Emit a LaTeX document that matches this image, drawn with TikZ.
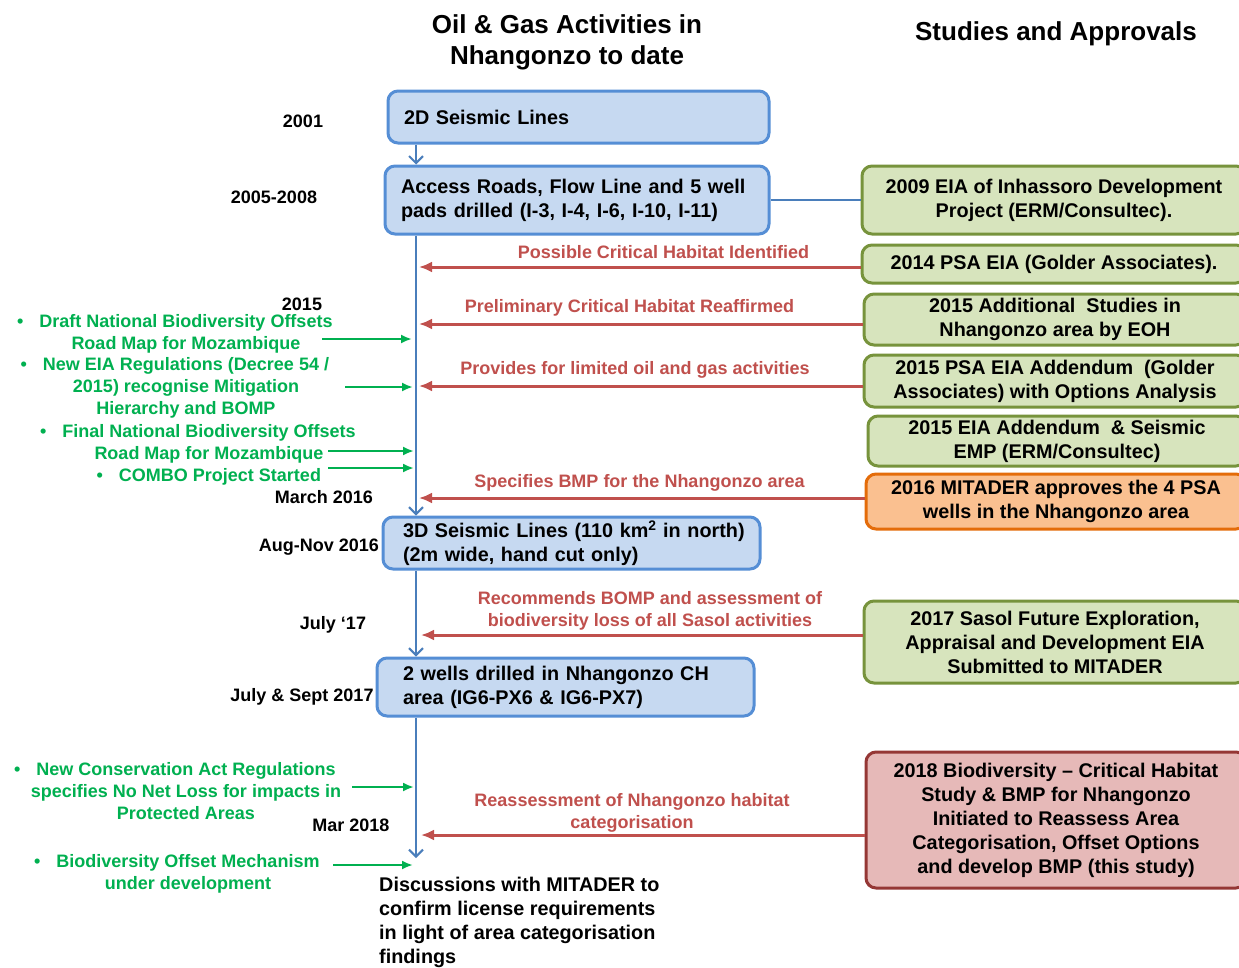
\documentclass[tikz,border=0pt]{standalone}
\usepackage{fontspec}
\setmainfont{Liberation Sans}
\usetikzlibrary{arrows.meta}
\definecolor{bfill}{RGB}{198,217,241}
\definecolor{bdraw}{RGB}{85,142,213}
\definecolor{bline}{RGB}{74,126,187}
\definecolor{gfill}{RGB}{215,228,189}
\definecolor{gdraw}{RGB}{119,147,60}
\definecolor{ofill}{RGB}{250,192,144}
\definecolor{odraw}{RGB}{228,108,10}
\definecolor{rfill}{RGB}{230,185,184}
\definecolor{rdraw}{RGB}{149,55,53}
\definecolor{rtext}{RGB}{192,80,77}
\definecolor{gtext}{RGB}{0,176,80}
\begin{document}
\begin{tikzpicture}[x=1pt,y=-1pt,
  boxtxt/.style={font=\bfseries\fontsize{19.8}{24}\selectfont},
  bluebox/.style={boxtxt, draw=bdraw, fill=bfill, line width=3pt, rounded corners=10pt, align=left, inner ysep=0pt},
  rbox/.style={boxtxt, line width=3pt, rounded corners=10pt, align=center, inner sep=0pt},
  gbox/.style={rbox, draw=gdraw, fill=gfill},
  obox/.style={rbox, draw=odraw, fill=ofill},
  redbox/.style={rbox, draw=rdraw, fill=rfill},
  yearlbl/.style={font=\bfseries\fontsize{18}{22}\selectfont, inner sep=0pt},
  redlbl/.style={font=\bfseries\fontsize{18}{22}\selectfont, text=rtext, align=center, inner sep=0pt},
  grnlbl/.style={font=\bfseries\fontsize{18}{22}\selectfont, text=gtext, align=center, inner sep=0pt},
  titlelbl/.style={font=\bfseries\fontsize{26}{31}\selectfont, align=center, inner sep=0pt},
  bluearr/.style={draw=bline, line width=2pt, -{Straight Barb[length=7pt,width=14pt,line width=2pt]}},
  redarr/.style={draw=rtext, line width=3pt, -{Latex[length=13pt,width=11pt]}},
  grnarr/.style={draw=gtext, line width=2.5pt, -{Latex[length=11pt,width=9pt]}}
]
\clip (0,0) rectangle (1239,967);
\fill[white] (0,0) rectangle (1239,967);

% titles
\node[titlelbl] (t1) at (567,42) {Oil \& Gas Activities in\\Nhangonzo to date};
\node[titlelbl] (t2) at (1056,34) {Studies and Approvals};

% blue boxes
\node[bluebox, text width=349pt, inner xsep=16pt, minimum height=52pt] (b1) at (578.5,117) {\mbox{2D Seismic Lines}};
\node[bluebox, text width=352pt, inner xsep=16pt, minimum height=68pt] (b2) at (577,200) {\mbox{Access Roads, Flow Line and 5 well}\\\mbox{pads drilled (I-3, I-4, I-6, I-10, I-11)}};
\node[bluebox, text width=337pt, inner xsep=20pt, minimum height=52pt] (b3) at (571.5,543) {\mbox{3D Seismic Lines (110 km\textsuperscript{2} in north)}\\\mbox{(2m wide, hand cut only)}};
\node[bluebox, text width=325pt, inner xsep=26pt, minimum height=58pt] (b4) at (565.5,687) {\mbox{2 wells drilled in Nhangonzo CH}\\\mbox{area (IG6-PX6 \& IG6-PX7)}};

% right boxes
\node[gbox, minimum width=384pt, minimum height=68pt] (e2009) at (1054,200) {2009 EIA of Inhassoro Development\\Project (ERM/Consultec).};
\node[gbox, minimum width=384pt, minimum height=38pt] (p2014) at (1054,264) {2014 PSA EIA (Golder Associates).};
\node[gbox, minimum width=382pt, minimum height=51pt] (a2015) at (1055,319.5) {2015 Additional\ \ Studies in\\Nhangonzo area by EOH};
\node[gbox, minimum width=382pt, minimum height=52pt] (pa2015) at (1055,381) {2015 PSA EIA Addendum\ \ (Golder\\Associates) with Options Analysis};
\node[gbox, minimum width=378pt, minimum height=50pt] (ea2015) at (1057,441) {2015 EIA Addendum\ \ \& Seismic\\EMP (ERM/Consultec)};
\node[obox, minimum width=380pt, minimum height=55pt] (m2016) at (1056,501.5) {2016 MITADER approves the 4 PSA\\wells in the Nhangonzo area};
\node[gbox, minimum width=382pt, minimum height=82pt] (s2017) at (1055,642) {2017 Sasol Future Exploration,\\Appraisal and Development EIA\\Submitted to MITADER};
\node[redbox, minimum width=380pt, minimum height=136pt] (b2018) at (1056,820) {2018 Biodiversity -- Critical Habitat\\Study \& BMP for Nhangonzo\\Initiated to Reassess Area\\Categorisation, Offset Options\\and develop BMP (this study)};

% year labels
\node[yearlbl] (y2001) at (303,121) {2001};
\node[yearlbl] (y0508) at (274,197) {2005-2008};
\node[yearlbl] (y2015) at (302,304) {2015};
\node[yearlbl] (ym16) at (324,497) {March 2016};
\node[yearlbl] (yan16) at (319,547) {Aug-Nov 2016};
\node[yearlbl] (yj17) at (333,625) {July ‘17};
\node[yearlbl] (yjs17) at (302,697) {July \& Sept 2017};
\node[yearlbl] (ym18) at (351,825) {Mar 2018};

% blue timeline
\coordinate (L) at (416,0);
\coordinate (bend) at (416,858);
\draw[bluearr] (b1.south -| L) -- (b2.north -| L);
\draw[bluearr] (b2.south -| L) -- (b3.north -| L);
\draw[bluearr] (b3.south -| L) -- (b4.north -| L);
\draw[bluearr] (b4.south -| L) -- (bend);
\draw[draw=bline, line width=2pt] (b2.east) -- (e2009.west);

% red arrows
\coordinate (r1) at (419,267);
\coordinate (r2) at (419,324);
\coordinate (r3) at (419,386);
\coordinate (r4) at (419,498);
\coordinate (r5) at (421,635);
\coordinate (r6) at (421,835);
\draw[redarr] (p2014.west |- r1) -- (r1);
\draw[redarr] (a2015.west |- r2) -- (r2);
\draw[redarr] (pa2015.west |- r3) -- (r3);
\draw[redarr] (m2016.west |- r4) -- (r4);
\draw[redarr] (s2017.west |- r5) -- (r5);
\draw[redarr] (b2018.west |- r6) -- (r6);

\node[redlbl] (l1) at (663.5,252) {Possible Critical Habitat Identified};
\node[redlbl] (l2) at (629.5,308) {Preliminary Critical Habitat Reaffirmed};
\node[redlbl] (l3) at (635,370) {Provides for limited oil and gas activities};
\node[redlbl] (l4) at (639.5,483) {Specifies BMP for the Nhangonzo area};
\node[redlbl] (l5) at (650,611) {Recommends BOMP and assessment of\\biodiversity loss of all Sasol activities};
\node[redlbl] (l6) at (632,812.5) {Reassessment of Nhangonzo habitat\\categorisation};

% green texts
\node[grnlbl] (g1) at (186,334) {\leavevmode\llap{•\hspace{16pt}}Draft National Biodiversity Offsets\\Road Map for Mozambique};
\node[grnlbl] (g2) at (186,388) {\leavevmode\llap{•\hspace{16pt}}New EIA Regulations (Decree 54 /\\2015) recognise Mitigation\\Hierarchy and BOMP};
\node[grnlbl] (g3) at (209,444) {\leavevmode\llap{•\hspace{16pt}}Final National Biodiversity Offsets\\Road Map for Mozambique};
\node[grnlbl] (g4) at (220,477) {\leavevmode\llap{•\hspace{16pt}}COMBO Project Started};
\node[grnlbl] (g5) at (186,791) {\leavevmode\llap{•\hspace{16pt}}New Conservation Act Regulations\\specifies No Net Loss for impacts in\\Protected Areas};
\node[grnlbl] (g6) at (188,874) {\leavevmode\llap{•\hspace{16pt}}Biodiversity Offset Mechanism\\under development};

\coordinate (gs1) at (322,339); \coordinate (ge1) at (412,339);
\coordinate (gs2) at (345,387); \coordinate (ge2) at (413,387);
\coordinate (gs3) at (328,451); \coordinate (ge3) at (414,451);
\coordinate (gs4) at (328,468); \coordinate (ge4) at (414,468);
\coordinate (gs5) at (352,787); \coordinate (ge5) at (414,787);
\coordinate (gs6) at (333,865); \coordinate (ge6) at (413,865);
\draw[grnarr] (gs1) -- (ge1);
\draw[grnarr] (gs2) -- (ge2);
\draw[grnarr] (gs3) -- (ge3);
\draw[grnarr] (gs4) -- (ge4);
\draw[grnarr] (gs5) -- (ge5);
\draw[grnarr] (gs6) -- (ge6);

% final text
\node[boxtxt, align=left, anchor=west, inner sep=0pt] (disc) at (379,922) {Discussions with MITADER to\\confirm license requirements\\in light of area categorisation\\findings};
\end{tikzpicture}
\end{document}
